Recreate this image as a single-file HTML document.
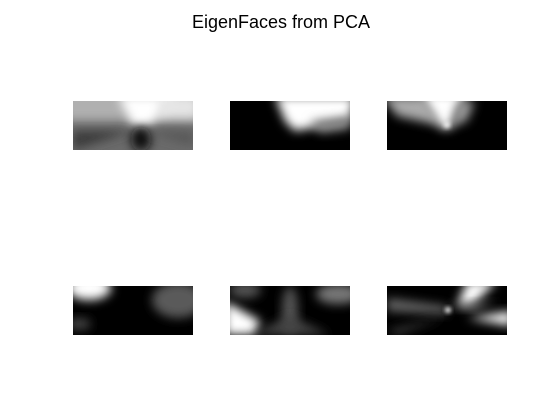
<!DOCTYPE html>
<html><head><meta charset="utf-8"><style>
html,body{margin:0;padding:0;background:#fff;}
svg{display:block;}
</style></head><body>
<svg width="560" height="420" viewBox="0 0 560 420">
<defs>
<filter id="b4" x="-50%" y="-50%" width="200%" height="200%"><feGaussianBlur stdDeviation="5"/></filter>
<filter id="b2" x="-50%" y="-50%" width="200%" height="200%"><feGaussianBlur stdDeviation="2"/></filter>
<clipPath id="c"><rect x="0" y="0" width="120" height="49"/></clipPath>
</defs>
<text x="281" y="28" text-anchor="middle" font-family="Liberation Sans, sans-serif" font-size="18" fill="#000">EigenFaces from PCA</text>

<g transform="translate(73,101)" clip-path="url(#c)">
<rect width="120" height="49" fill="#6a6a6a"/>
<rect x="-10" y="-10" width="140" height="30" fill="#b0b0b0" filter="url(#b4)"/>
<polygon points="45,-5 110,-5 75,25 60,25" fill="#fff" filter="url(#b4)"/>
<rect x="85" y="-5" width="40" height="22" fill="#e6e6e6" filter="url(#b4)"/>
<polygon points="0,30 60,30 0,49" fill="#3a3a3a" filter="url(#b4)"/>
<ellipse cx="68" cy="38" rx="10" ry="12" fill="#111" filter="url(#b4)"/>
<polygon points="70,30 120,32 120,44" fill="#555" filter="url(#b4)"/>
</g>

<g transform="translate(230,101)" clip-path="url(#c)">
<rect width="120" height="49" fill="#000"/>
<polygon points="45,-5 125,-5 120,20 90,25 65,30 55,20" fill="#fff" filter="url(#b4)"/>
<polygon points="80,20 120,15 120,28 90,32" fill="#888" filter="url(#b4)"/>
</g>

<g transform="translate(387,101)" clip-path="url(#c)">
<rect width="120" height="49" fill="#000"/>
<polygon points="-5,-5 35,-5 55,25 10,15" fill="#aaa" filter="url(#b4)"/>
<polygon points="32,-8 80,-8 63,28 55,28" fill="#fff" filter="url(#b4)"/>
<polygon points="70,0 88,0 80,20 64,26" fill="#999" filter="url(#b4)"/>
<ellipse cx="60" cy="24" rx="3" ry="3" fill="#fff" filter="url(#b2)"/>
</g>

<g transform="translate(73,286)" clip-path="url(#c)">
<rect width="120" height="49" fill="#000"/>
<ellipse cx="16" cy="2" rx="22" ry="12" fill="#fff" filter="url(#b4)"/>
<ellipse cx="105" cy="14" rx="26" ry="18" fill="#5a5a5a" filter="url(#b4)"/>
<ellipse cx="6" cy="38" rx="12" ry="6" fill="#444" filter="url(#b4)"/>
</g>

<g transform="translate(230,286)" clip-path="url(#c)">
<rect width="120" height="49" fill="#000"/>
<polygon points="-5,15 30,35 25,49 -5,49" fill="#fff" filter="url(#b4)"/>
<ellipse cx="108" cy="8" rx="22" ry="10" fill="#777" filter="url(#b4)"/>
<ellipse cx="15" cy="4" rx="16" ry="8" fill="#555" filter="url(#b4)"/>
<ellipse cx="60" cy="24" rx="8" ry="24" fill="#555" filter="url(#b4)"/>
<polygon points="20,49 60,30 100,49" fill="#444" filter="url(#b4)"/>
</g>

<g transform="translate(387,286)" clip-path="url(#c)">
<rect width="120" height="49" fill="#000"/>
<polygon points="0,12 60,20 60,28 0,25" fill="#666" filter="url(#b4)"/>
<polygon points="80,-5 110,-5 85,20 70,20" fill="#fff" filter="url(#b4)"/>
<polygon points="125,25 125,40 80,32" fill="#fff" filter="url(#b4)"/>
<polygon points="60,20 110,15 90,24" fill="#666" filter="url(#b4)"/>
<ellipse cx="61" cy="24" rx="3" ry="3" fill="#fff" filter="url(#b2)"/>
<polygon points="0,45 60,30 10,49" fill="#444" filter="url(#b4)"/>
</g>
</svg>
</body></html>
